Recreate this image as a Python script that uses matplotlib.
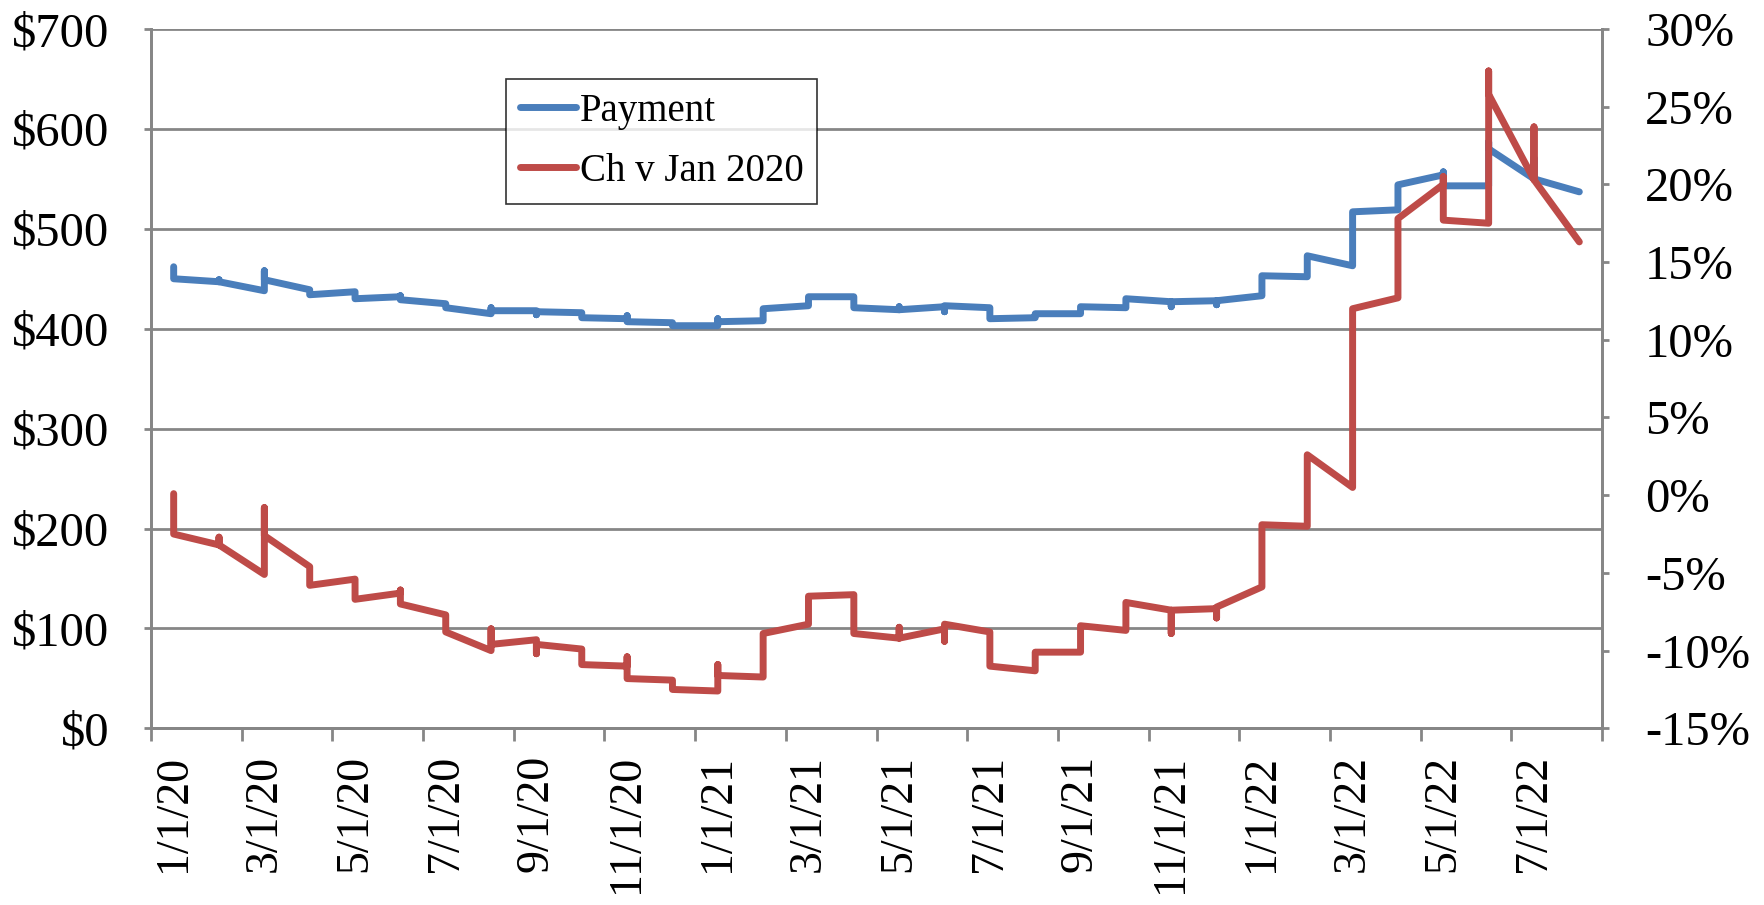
import pandas as pd
from matplotlib import pyplot as plt
from matplotlib.ticker import FuncFormatter, FixedLocator

plt.rcParams['font.family'] = ['Liberation Serif', 'DejaVu Serif']

# one slot per month on the axis, several readings inside a month
months = pd.date_range("2020-01-01", "2022-08-01", freq="MS")

payment = [
    [462, 458, 450], [447, 449, 447], [438, 458, 449], [439, 434],
    [437, 430], [432, 433, 429], [425, 421], [415, 421, 418],
    [418, 414, 417], [416, 411], [410, 413, 407], [406, 403],
    [403, 410, 407], [408, 420], [423, 432], [432, 421],
    [419, 422, 419], [422, 417, 423], [421, 410], [411, 415],
    [415, 422], [421, 430], [427, 422, 427], [428, 424, 428],
    [433, 453], [452, 473], [463, 517], [519, 544],
    [554, 557, 543], [543, 587, 580], [550, 571, 550], [537],
]

# % change vs Jan 2020
change = [
    [0.1, -0.8, -2.5], [-3.2, -2.7, -3.2], [-5.1, -0.8, -2.6], [-4.6, -5.8],
    [-5.4, -6.7], [-6.3, -6.1, -7.0], [-7.7, -8.8], [-10.0, -8.6, -9.6],
    [-9.3, -10.2, -9.6], [-9.9, -10.9], [-11.0, -10.4, -11.8], [-11.9, -12.5],
    [-12.6, -10.9, -11.6], [-11.7, -8.9], [-8.3, -6.5], [-6.4, -8.9],
    [-9.2, -8.5, -9.2], [-8.6, -9.4, -8.3], [-8.8, -11.0], [-11.3, -10.1],
    [-10.1, -8.4], [-8.7, -6.9], [-7.4, -8.9, -7.4], [-7.3, -7.9, -7.2],
    [-5.9, -1.9], [-2.0, 2.6], [0.5, 12.0], [12.7, 17.8],
    [20.0, 20.5, 17.7], [17.5, 27.3, 25.8], [20.3, 23.7, 20.3], [16.3],
]

month_labels = [f"{m.month}/1/{m.year % 100}" for m in months]

def flatten(series):
    xs, ys = [], []
    for i, vals in enumerate(series):
        for v in vals:
            xs.append(i + 0.5)
            ys.append(v)
    return xs, ys

BLUE = '#4A7EBB'
RED = '#BE4B48'
GRID = '#868686'
FS = 35

fig = plt.figure(figsize=(17.65, 9.05), dpi=100)
ax = fig.add_axes([151/1765, 1 - 728.3/905, 1451/1765, 699.3/905])
ax2 = ax.twinx()

px, py = flatten(payment)
cx, cy = flatten(change)
l1, = ax.plot(px, py, color=BLUE, lw=5, solid_joinstyle='round',
              solid_capstyle='round', label='Payment')
l2, = ax2.plot(cx, cy, color=RED, lw=5, solid_joinstyle='round',
               solid_capstyle='round', label='Ch v Jan 2020')

n = len(months)
ax.set_xlim(0, n)
ax.set_ylim(0, 700)
ax2.set_ylim(-15, 30)

ax.set_yticks(range(0, 701, 100))
ax.yaxis.set_major_formatter(FuncFormatter(lambda v, p: f"${v:.0f}"))
ax2.set_yticks(range(-15, 31, 5))
ax2.yaxis.set_major_formatter(FuncFormatter(lambda v, p: f"{v:.0f}%"))

# tick marks on every other month boundary, labels centred in the slot
ax.xaxis.set_major_locator(FixedLocator(list(range(0, n + 1, 2))))
ax.xaxis.set_major_formatter(FuncFormatter(lambda v, p: ""))
ax.xaxis.set_minor_locator(FixedLocator([i + 0.5 for i in range(0, n, 2)]))
ax.set_xticklabels(month_labels[::2], minor=True, rotation=90)

ax.grid(axis='y', color=GRID, lw=2)
ax.set_axisbelow(True)

for a in (ax, ax2):
    a.spines['top'].set_visible(False)
    for s in ('left', 'right', 'bottom'):
        a.spines[s].set_color(GRID)
        a.spines[s].set_linewidth(2)

ax.tick_params(axis='y', direction='out', length=5, width=2, color=GRID,
               labelsize=FS, pad=25)
ax2.tick_params(axis='y', direction='out', length=5, width=2, color=GRID,
                labelsize=FS, pad=26)
ax.tick_params(axis='x', which='major', direction='out', length=9, width=2,
               color=GRID)
ax.tick_params(axis='x', which='minor', length=0, labelsize=33, pad=19)

leg = ax2.legend(handles=[l1, l2], loc='upper left',
                 bbox_to_anchor=((506 - 151) / 1451, (728.3 - 79) / 699.3),
                 borderaxespad=0, fontsize=28, frameon=True, fancybox=False,
                 edgecolor='black', handlelength=1.45, handletextpad=0.1,
                 labelspacing=0.6, borderpad=0.35)
leg.get_frame().set_linewidth(1.2)

fig.savefig('out.png', dpi=100, facecolor='white')
